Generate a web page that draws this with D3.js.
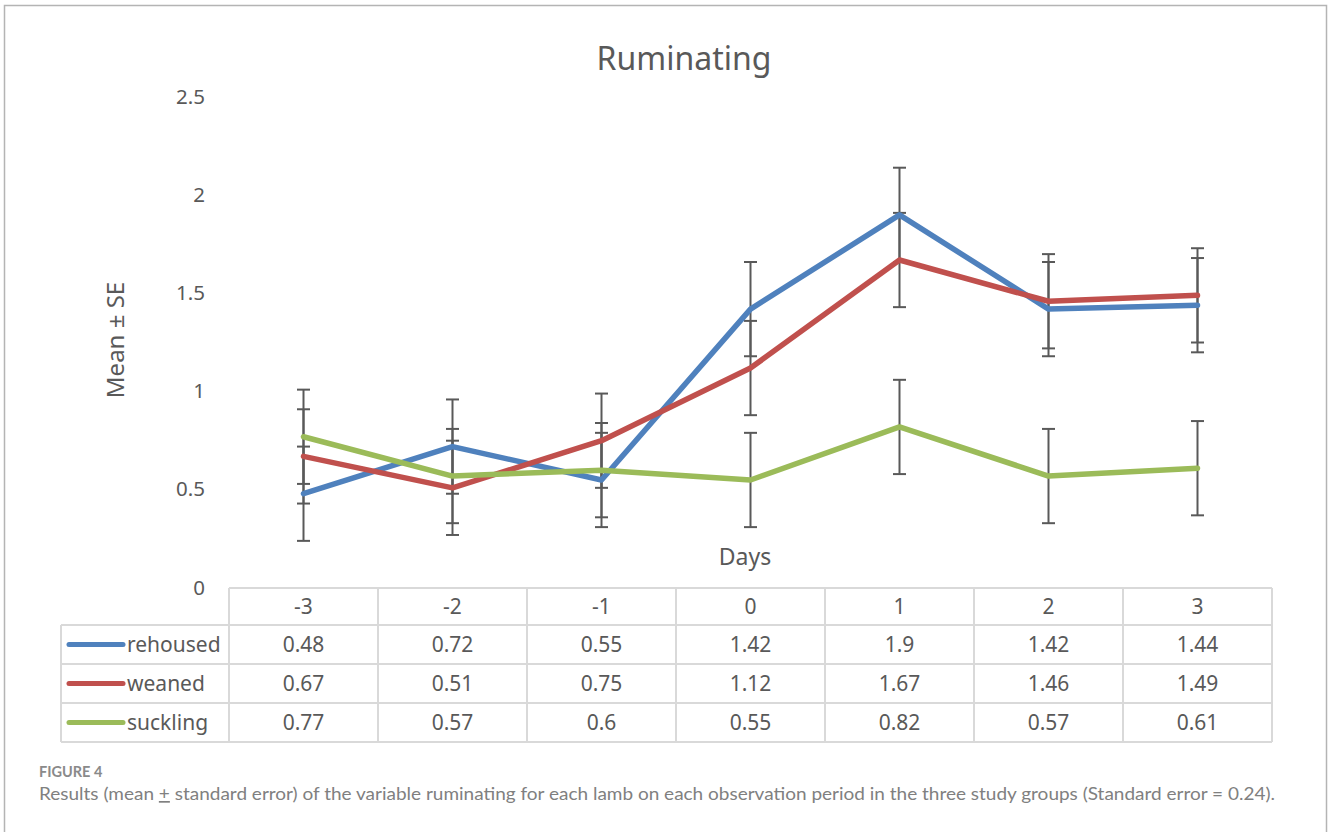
<!DOCTYPE html>
<html>
<head>
<meta charset="utf-8">
<script src="https://cdn.jsdelivr.net/npm/d3@7"></script>
<style>
  html, body { margin: 0; padding: 0; background: #fff; }
  svg { display: block; }
</style>
</head>
<body>
<svg id="chart" width="1328" height="832"></svg>
<script>
// Observation days and group means for the ruminating variable
const days = ["-3", "-2", "-1", "0", "1", "2", "3"];
const groups = ["rehoused", "weaned", "suckling"];
const rehoused = [0.48, 0.72, 0.55, 1.42, 1.9, 1.42, 1.44];
const weaned = [0.67, 0.51, 0.75, 1.12, 1.67, 1.46, 1.49];
const suckling = [0.77, 0.57, 0.6, 0.55, 0.82, 0.57, 0.61];
const standardError = 0.24;
const yTicks = [0, 0.5, 1, 1.5, 2, 2.5];
const colors = ["#4f81bd", "#c0504d", "#9bbb59"];

const series = [rehoused, weaned, suckling].map((values, i) => ({
  name: groups[i], color: colors[i], values
}));

const svg = d3.select("#chart");
const chartFont = "'Noto Sans', 'Open Sans', sans-serif";
const textColor = "#595959";

// outer frame
svg.append("rect")
  .attr("x", 4.5).attr("y", 5.5)
  .attr("width", 1322).attr("height", 900)
  .attr("fill", "none").attr("stroke", "#b4b4b4").attr("stroke-width", 1.5);

// scales: plot spans the data-table columns
const tableLeft = 229, colW = 149;
const x = d3.scaleBand().domain(days).range([tableLeft, tableLeft + colW * days.length]);
const y = d3.scaleLinear().domain([0, 2.5]).range([588, 97]);
const cx = d => x(d) + x.bandwidth() / 2;

// title
svg.append("text")
  .attr("x", 684).attr("y", 70)
  .attr("text-anchor", "middle")
  .attr("font-family", chartFont).attr("font-size", 32)
  .attr("fill", textColor)
  .text("Ruminating");

// y axis labels (no axis line)
const yAxis = d3.axisLeft(y).tickValues(yTicks).tickSize(0).tickPadding(0)
  .tickFormat(d3.format("~g"));
const gy = svg.append("g").attr("transform", "translate(205,0)").call(yAxis);
gy.select(".domain").remove();
gy.selectAll("text")
  .attr("font-family", chartFont).attr("font-size", 20.5)
  .attr("fill", textColor).attr("dy", "0.3em");

// y axis title
svg.append("text")
  .attr("transform", "translate(124,340) rotate(-90)")
  .attr("text-anchor", "middle")
  .attr("font-family", chartFont).attr("font-size", 24)
  .attr("fill", textColor)
  .text("Mean ± SE");

// x axis title
svg.append("text")
  .attr("x", 745).attr("y", 565)
  .attr("text-anchor", "middle")
  .attr("font-family", chartFont).attr("font-size", 23)
  .attr("fill", textColor)
  .text("Days");

// error bars (± standard error)
const capHalf = 6.5;
const eb = svg.append("g").attr("stroke", "#595959").attr("stroke-width", 2);
series.forEach(s => {
  s.values.forEach((v, i) => {
    const px = cx(days[i]);
    const lo = y(v - standardError), hi = y(v + standardError);
    eb.append("line").attr("x1", px).attr("x2", px).attr("y1", lo).attr("y2", hi);
    eb.append("line").attr("x1", px - capHalf).attr("x2", px + capHalf).attr("y1", lo).attr("y2", lo);
    eb.append("line").attr("x1", px - capHalf).attr("x2", px + capHalf).attr("y1", hi).attr("y2", hi);
  });
});

// series lines
const line = d3.line().x((d, i) => cx(days[i])).y(d => y(d));
series.forEach(s => {
  svg.append("path")
    .datum(s.values)
    .attr("d", line)
    .attr("fill", "none")
    .attr("stroke", s.color)
    .attr("stroke-width", 5.5)
    .attr("stroke-linejoin", "round")
    .attr("stroke-linecap", "round");
});

// data table
const gridColor = "#d9d9d9";
const headerTop = 588, headerH = 37, rowH = 39;
const legendLeft = 61;
const tableRight = tableLeft + colW * days.length;
const grid = svg.append("g").attr("stroke", gridColor).attr("stroke-width", 2).attr("fill", "none");
const rowsTop = headerTop + headerH;
const rowsBottom = rowsTop + rowH * groups.length;

// header row
grid.append("line").attr("x1", tableLeft).attr("x2", tableRight).attr("y1", headerTop).attr("y2", headerTop);
// row separators
d3.range(groups.length + 1).forEach(r => {
  const yy = rowsTop + r * rowH;
  grid.append("line").attr("x1", legendLeft).attr("x2", tableRight).attr("y1", yy).attr("y2", yy);
});
// vertical lines
grid.append("line").attr("x1", legendLeft).attr("x2", legendLeft).attr("y1", rowsTop).attr("y2", rowsBottom);
d3.range(days.length + 1).forEach(c => {
  const xx = tableLeft + c * colW;
  grid.append("line").attr("x1", xx).attr("x2", xx).attr("y1", headerTop).attr("y2", rowsBottom);
});

const cellFont = 21;

// header labels
svg.append("g").selectAll("text").data(days).join("text")
  .attr("x", d => cx(d)).attr("y", headerTop + headerH / 2)
  .attr("dy", "0.36em")
  .attr("text-anchor", "middle")
  .attr("font-family", chartFont).attr("font-size", cellFont)
  .attr("fill", textColor)
  .text(d => d);

// rows: legend key + values
series.forEach((s, r) => {
  const rowMid = rowsTop + r * rowH + rowH / 2;
  svg.append("line")
    .attr("x1", 69).attr("x2", 123).attr("y1", rowMid).attr("y2", rowMid)
    .attr("stroke", s.color).attr("stroke-width", 5).attr("stroke-linecap", "round");
  svg.append("text")
    .attr("x", 127).attr("y", rowMid).attr("dy", "0.36em")
    .attr("font-family", chartFont).attr("font-size", cellFont)
    .attr("fill", textColor)
    .text(s.name);
  svg.append("g").selectAll("text").data(s.values).join("text")
    .attr("x", (d, i) => cx(days[i])).attr("y", rowMid).attr("dy", "0.36em")
    .attr("text-anchor", "middle")
    .attr("font-family", chartFont).attr("font-size", cellFont)
    .attr("fill", textColor)
    .text(d => d);
});

// figure caption
const capFont = "Lato, 'Open Sans', sans-serif";
svg.append("text")
  .attr("x", 39).attr("y", 777)
  .attr("font-family", capFont).attr("font-size", 14.5).attr("font-weight", 700)
  .attr("fill", "#8a8a8a")
  .text("FIGURE 4");
const cap = svg.append("text")
  .attr("x", 39).attr("y", 800)
  .attr("font-family", capFont).attr("font-size", 17)
  .attr("fill", "#808080")
  .attr("textLength", 1236).attr("lengthAdjust", "spacingAndGlyphs");
cap.append("tspan").text("Results (mean ");
cap.append("tspan").attr("text-decoration", "underline").text("+");
cap.append("tspan").text(" standard error) of the variable ruminating for each lamb on each observation period in the three study groups (Standard error = 0.24).");
</script>
</body>
</html>
